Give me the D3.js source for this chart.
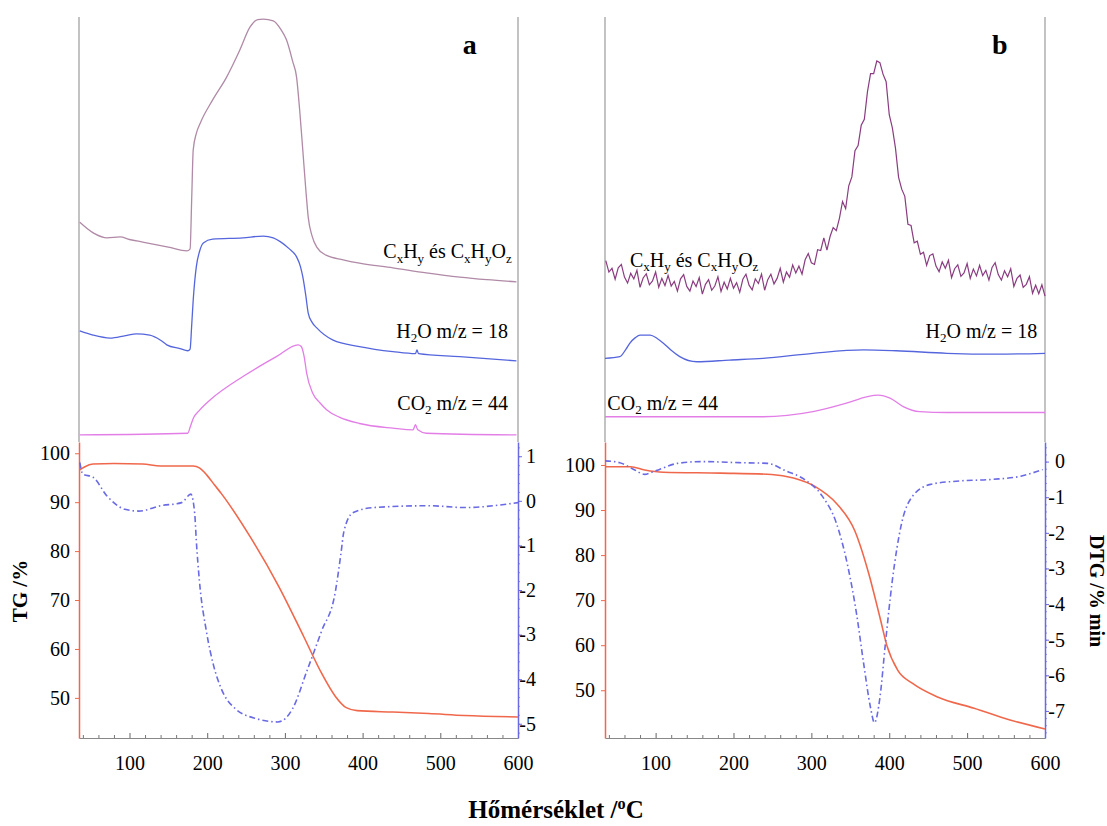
<!DOCTYPE html>
<html>
<head>
<meta charset="utf-8">
<style>
  body { margin: 0; background: #fff; }
  svg text { font-family: 'Liberation Serif', 'Times New Roman', serif; fill: #000; }
</style>
</head>
<body>
<div id="chart"></div>
<script src="https://cdn.jsdelivr.net/npm/d3@7/dist/d3.min.js"></script>
<script>
// ---- ticks ----
var tempTicks = [100, 200, 300, 400, 500, 600];
var tempMinor = [40, 60, 80, 120, 140, 160, 180, 220, 240, 260, 280, 320, 340, 360, 380, 420, 440, 460, 480, 520, 540, 560, 580];
var tgTicks = [50, 60, 70, 80, 90, 100];
var dtgTicksA = [1, 0, -1, -2, -3, -4, -5];
var dtgTicksB = [0, -1, -2, -3, -4, -5, -6, -7];

// ---- panel a : MS curves (relative intensity, upper band 0-100) ----
var aCxT = [36, 55, 71, 88, 100, 117, 150, 174, 178, 180, 182, 186, 191, 207, 225, 242, 255, 265, 272, 285, 295, 302, 310, 315, 319, 323, 327, 330, 335, 341, 353, 375, 396, 439, 482, 525, 560, 598];
var aCx  = [51.5, 48.8, 47.8, 48.0, 47.4, 46.8, 45.6, 44.7, 45.2, 56.7, 68.6, 72.5, 74.9, 80.4, 85.8, 92.2, 97.6, 99.4, 99.5, 99.1, 97.0, 94.6, 89.5, 85.8, 78.0, 68.6, 59.0, 52.7, 48.2, 45.6, 43.7, 42.6, 41.8, 40.7, 39.5, 38.5, 37.9, 37.4];

var aH2oT = [36, 53, 75, 95, 109, 126, 140, 148, 165, 175, 178, 180, 182, 186, 190, 195, 207, 246, 272, 285, 294, 305, 315, 320, 323, 327, 330, 335, 341, 362, 396, 439, 468, 470, 472, 525, 598];
var aH2o  = [25.8, 24.8, 24.1, 24.7, 25.1, 24.8, 23.6, 22.5, 21.6, 21.1, 21.5, 27.0, 33.1, 41.0, 44.5, 46.6, 47.5, 47.8, 48.2, 47.8, 46.9, 45.3, 43.3, 41.0, 38.6, 34.0, 30.0, 27.8, 26.5, 23.6, 22.1, 20.9, 20.4, 21.3, 20.4, 19.7, 18.7];

var aCo2T = [36, 175, 178, 182, 190, 204, 246, 289, 317, 321, 325, 328, 336, 345, 354, 370, 396, 439, 465, 468, 471, 482, 598];
var aCo2  = [1.2, 1.6, 3.0, 5.1, 7.0, 9.5, 15.0, 19.7, 22.5, 22.1, 19.5, 15.8, 11.0, 8.8, 7.1, 5.4, 3.9, 2.8, 2.4, 3.6, 2.4, 1.6, 1.2];

// ---- panel a : TG (%) and DTG (%/min) ----
var aTgT = [36, 42, 53, 80, 117, 140, 182, 190, 197, 210, 218, 255, 292, 324, 347, 365, 379, 393, 439, 485, 531, 600];
var aTg  = [96.6, 97.2, 97.8, 97.9, 97.8, 97.4, 97.4, 97.0, 96.0, 93.4, 91.8, 83.0, 72.8, 62.6, 55.1, 50.3, 48.0, 47.4, 47.1, 46.8, 46.4, 46.1];

var aDtgT = [36, 40, 53, 71, 94, 112, 140, 167, 179, 184, 186, 190, 199, 208, 218, 236, 264, 291, 310, 328, 347, 365, 372, 376, 388, 415, 485, 531, 600];
var aDtg  = [0.86, 0.6, 0.53, 0.11, -0.19, -0.23, -0.11, -0.04, 0.15, -0.3, -0.9, -1.8, -2.93, -3.68, -4.21, -4.66, -4.89, -4.96, -4.66, -3.83, -2.93, -2.03, -1.2, -0.68, -0.26, -0.15, -0.11, -0.15, -0.04];

// ---- panel b : MS curves ----
// CxHy signal is noisy, read every 4 degrees
var bCxT = d3.range(36, 601, 4);
var bCx  = [42.4, 39.7, 40.6, 38.0, 40.7, 41.5, 38.5, 37.1, 39.4, 38.1,
            40.1, 36.1, 38.3, 39.3, 36.7, 37.6, 39.7, 36.1, 38.2, 36.5,
            38.9, 36.4, 37.5, 35.2, 38.1, 39.1, 36.3, 35.2, 37.6, 36.3,
            38.4, 34.5, 36.8, 37.9, 35.4, 36.4, 38.6, 35.1, 37.3, 35.7,
            38.2, 35.9, 37.2, 34.9, 38.0, 39.2, 36.6, 35.5, 38.1, 37.0,
            39.2, 35.4, 37.9, 39.2, 36.9, 38.2, 40.6, 37.3, 39.7, 38.5,
            41.4, 39.5, 41.1, 39.2, 42.6, 44.1, 41.9, 41.5, 45.0, 44.8,
            47.8, 44.9, 48.1, 50.2, 49.5, 52.4, 56.4, 54.7, 60.1, 62.2,
            68.4, 69.6, 74.4, 75.8, 82.3, 86.6, 86.6, 89.6, 89.2, 86.5,
            84.7, 76.9, 73.8, 69.0, 62.1, 59.3, 57.6, 51.0, 50.7, 46.6,
            47.0, 43.9, 44.4, 41.3, 43.6, 44.0, 41.1, 39.8, 42.1, 40.6,
            42.5, 38.4, 40.5, 41.4, 38.7, 39.5, 41.7, 38.2, 40.4, 38.8,
            41.3, 38.9, 40.1, 37.8, 40.8, 41.9, 39.1, 37.8, 40.0, 38.6,
            40.5, 36.3, 38.2, 39.0, 36.1, 36.8, 38.6, 34.7, 36.6, 34.6,
            36.7, 34.0];

var bH2oT = [35, 54, 62, 67, 74, 80, 93, 102, 110, 120, 131, 153, 195, 238, 302, 367, 409, 474, 538, 600];
var bH2o  = [19.3, 19.7, 21.5, 22.9, 24.2, 24.8, 24.8, 24.0, 22.9, 21.2, 19.7, 18.5, 18.9, 19.3, 20.5, 21.3, 21.1, 20.5, 20.3, 20.5];

var bCo2T = [35, 238, 302, 345, 371, 386, 401, 418, 439, 474, 600];
var bCo2  = [5.5, 5.5, 6.7, 8.7, 10.2, 10.6, 9.9, 7.9, 6.7, 6.5, 6.5];

// ---- panel b : TG and DTG ----
var bTgT = [35, 68, 86, 110, 184, 249, 277, 305, 332, 356, 374, 388, 397, 411, 430, 462, 509, 555, 600];
var bTg  = [99.6, 99.6, 98.9, 98.4, 98.2, 97.9, 97.1, 95.2, 91.5, 85.3, 75.7, 66.2, 59.9, 54.4, 51.5, 48.5, 46.0, 43.4, 41.4];

var bDtgT = [35, 54, 72, 86, 95, 105, 128, 160, 207, 244, 267, 291, 314, 332, 346, 358, 367, 376, 381, 388, 395, 404, 416, 430, 453, 486, 532, 569, 597];
var bDtg  = [0.02, -0.03, -0.22, -0.36, -0.3, -0.22, -0.05, 0, -0.03, -0.05, -0.26, -0.5, -0.97, -1.72, -2.86, -4.27, -5.65, -6.91, -7.33, -6.63, -5.12, -3.33, -1.72, -0.97, -0.64, -0.55, -0.5, -0.41, -0.22];

// ---- layout ----
var W = 1107, H = 826;
var msTop = 17, msBottom = 440, plotTop = 442, plotBottom = 738;
var serif = "'Liberation Serif', 'Times New Roman', serif";
var colTG = '#f0684c', colDTG = '#6a6ae4', colGrey = '#9a9a9a';
var colCO2 = '#e27ee6', colH2O = '#5566dd';

var svg = d3.select('#chart').append('svg')
  .attr('width', W)
  .attr('height', H)
  .attr('font-family', serif);

function pts(T, V) { return T.map(function(t, i){ return [t, V[i]]; }); }

// text with sub/superscripts: parts = [[str, shift]] shift: 0 normal, 1 sub, -1 sup
function richText(x, y, parts, anchor, size) {
  var t = svg.append('text')
    .attr('x', x).attr('y', y)
    .attr('text-anchor', anchor)
    .style('font-size', size + 'px');
  var prev = 0;
  parts.forEach(function(p){
    var off = p[1] === 1 ? size * 0.22 : (p[1] === -1 ? -size * 0.38 : 0);
    t.append('tspan')
      .attr('dy', off - prev)
      .style('font-size', (p[1] ? size * 0.65 : size) + 'px')
      .text(p[0]);
    prev = off;
  });
  return t;
}

function styleTicks(g) {
  g.attr('font-family', serif).attr('font-size', 20);
  g.selectAll('text').attr('font-family', serif).style('font-family', serif)
    .style('font-size', '20px').attr('fill', '#000');
}

var cxhyParts = [['C',0],['x',1],['H',0],['y',1],[' és C',0],['x',1],['H',0],['y',1],['O',0],['z',1]];
var h2oParts = [['H',0],['2',1],['O m/z = 18',0]];
var co2Parts = [['CO',0],['2',1],[' m/z = 44',0]];

function drawPanel(cfg) {
  var x = d3.scaleLinear().domain([35, 600]).range([cfg.x0, cfg.x1]);
  var yMs = d3.scaleLinear().domain([0, 100]).range([msBottom, msTop]);
  var yTg = d3.scaleLinear().domain(cfg.tgDomain).range([plotBottom, plotTop]);
  var yDtg = d3.scaleLinear().domain(cfg.dtgDomain).range([plotBottom, plotTop]);

  // grey frame of the MS band
  [cfg.x0, cfg.x1].forEach(function(xx){
    svg.append('line')
      .attr('x1', xx).attr('x2', xx)
      .attr('y1', msTop).attr('y2', plotTop)
      .attr('stroke', colGrey).attr('stroke-width', 1.2);
  });

  // bottom axis
  var gx = svg.append('g').attr('transform', 'translate(0,' + plotBottom + ')');
  gx.call(d3.axisBottom(x).tickValues(tempTicks).tickSize(-5).tickSizeOuter(0).tickPadding(18));
  gx.select('.domain').attr('stroke', '#888').attr('stroke-width', 1.2);
  gx.selectAll('.tick line').attr('stroke', '#666');
  styleTicks(gx);
  var gxm = svg.append('g').attr('transform', 'translate(0,' + plotBottom + ')');
  gxm.call(d3.axisBottom(x).tickValues(tempMinor).tickSize(-3).tickFormat(''));
  gxm.select('.domain').remove();
  gxm.selectAll('.tick line').attr('stroke', '#777');

  // TG axis (left)
  var gl = svg.append('g').attr('transform', 'translate(' + cfg.x0 + ',0)');
  gl.call(d3.axisLeft(yTg).tickValues(tgTicks).tickSize(4).tickSizeOuter(0).tickPadding(cfg.tgPad));
  gl.select('.domain').attr('stroke', colTG).attr('stroke-width', 1.5);
  gl.selectAll('.tick line').attr('stroke', colTG);
  styleTicks(gl);

  // DTG axis (right)
  var gr = svg.append('g').attr('transform', 'translate(' + cfg.x1 + ',0)');
  gr.call(d3.axisRight(yDtg).tickValues(cfg.dtgTicks).tickSize(4).tickSizeOuter(0).tickPadding(2)
    .tickFormat(function(d){ return d < 0 ? '-' + Math.abs(d) : d; }));
  gr.select('.domain').attr('stroke', colDTG).attr('stroke-width', 1.5);
  gr.selectAll('.tick line').attr('stroke', colDTG);
  styleTicks(gr);
  gr.selectAll('text').attr('text-anchor', 'end').attr('x', cfg.dtgRight);
  var grm = svg.append('g').attr('transform', 'translate(' + cfg.x1 + ',0)');
  grm.call(d3.axisRight(yDtg).ticks(40).tickSize(2).tickFormat(''));
  grm.select('.domain').remove();
  grm.selectAll('.tick line').attr('stroke', colDTG).attr('stroke-opacity', 0.7);

  var smooth = d3.line().x(function(d){ return x(d[0]); }).curve(d3.curveMonotoneX);

  // MS curves
  svg.append('path').datum(pts(cfg.co2T, cfg.co2))
    .attr('d', smooth.y(function(d){ return yMs(d[1]); }))
    .attr('fill', 'none').attr('stroke', colCO2).attr('stroke-width', 1.3);
  svg.append('path').datum(pts(cfg.h2oT, cfg.h2o))
    .attr('d', smooth.y(function(d){ return yMs(d[1]); }))
    .attr('fill', 'none').attr('stroke', colH2O).attr('stroke-width', 1.3);
  var cxLine = d3.line().x(function(d){ return x(d[0]); }).y(function(d){ return yMs(d[1]); })
    .curve(cfg.noisy ? d3.curveLinear : d3.curveMonotoneX);
  svg.append('path').datum(pts(cfg.cxT, cfg.cx))
    .attr('d', cxLine)
    .attr('fill', 'none').attr('stroke', cfg.cxColor).attr('stroke-width', cfg.noisy ? 1.2 : 1.3);

  // TG and DTG
  svg.append('path').datum(pts(cfg.tgT, cfg.tg))
    .attr('d', d3.line().x(function(d){ return x(d[0]); }).y(function(d){ return yTg(d[1]); }).curve(d3.curveMonotoneX))
    .attr('fill', 'none').attr('stroke', colTG).attr('stroke-width', 1.6);
  svg.append('path').datum(pts(cfg.dtgT, cfg.dtg))
    .attr('d', d3.line().x(function(d){ return x(d[0]); }).y(function(d){ return yDtg(d[1]); }).curve(d3.curveMonotoneX))
    .attr('fill', 'none').attr('stroke', colDTG).attr('stroke-width', 1.6)
    .attr('stroke-dasharray', '6,3,1.5,3');

  // labels
  svg.append('text')
    .attr('x', x(cfg.letterT)).attr('y', 54)
    .attr('text-anchor', 'middle')
    .style('font-size', '28px').style('font-weight', 'bold')
    .text(cfg.letter);
  cfg.labels.forEach(function(l){
    richText(x(l.t), yMs(l.v), l.parts, l.anchor, 20);
  });
}

drawPanel({
  x0: 79, x1: 518,
  tgDomain: [41.8, 102.3], dtgDomain: [-5.32, 1.32],
  dtgTicks: dtgTicksA, tgPad: 5, dtgRight: 18,
  cxT: aCxT, cx: aCx, cxColor: '#b08aa6', noisy: false,
  h2oT: aH2oT, h2o: aH2o, co2T: aCo2T, co2: aCo2,
  tgT: aTgT, tg: aTg, dtgT: aDtgT, dtg: aDtg,
  letter: 'a', letterT: 538,
  labels: [
    {t: 592, v: 43.0, parts: cxhyParts, anchor: 'end'},
    {t: 587, v: 24.1, parts: h2oParts, anchor: 'end'},
    {t: 587, v: 7.1, parts: co2Parts, anchor: 'end'}
  ]
});

drawPanel({
  x0: 605, x1: 1045,
  tgDomain: [39.4, 105.1], dtgDomain: [-7.76, 0.55],
  dtgTicks: dtgTicksB, tgPad: 6, dtgRight: 20,
  cxT: bCxT, cx: bCx, cxColor: '#8a3c80', noisy: true,
  h2oT: bH2oT, h2o: bH2o, co2T: bCo2T, co2: bCo2,
  tgT: bTgT, tg: bTg, dtgT: bDtgT, dtg: bDtg,
  letter: 'b', letterT: 542,
  labels: [
    {t: 67, v: 40.9, parts: cxhyParts, anchor: 'start'},
    {t: 590, v: 24.1, parts: h2oParts, anchor: 'end'},
    {t: 38, v: 7.1, parts: co2Parts, anchor: 'start'}
  ]
});

// axis titles
svg.append('text')
  .attr('transform', 'translate(27,591) rotate(-90)')
  .attr('text-anchor', 'middle')
  .style('font-size', '21px').style('font-weight', 'bold')
  .text('TG /%');
svg.append('text')
  .attr('transform', 'translate(1090,591) rotate(90)')
  .attr('text-anchor', 'middle')
  .style('font-size', '20px').style('font-weight', 'bold')
  .text('DTG /% min');
var xt = richText(556, 818, [['Hőmérséklet /',0],['o',-1],['C',0]], 'middle', 25);
xt.style('font-weight', 'bold');
</script>
</body>
</html>
